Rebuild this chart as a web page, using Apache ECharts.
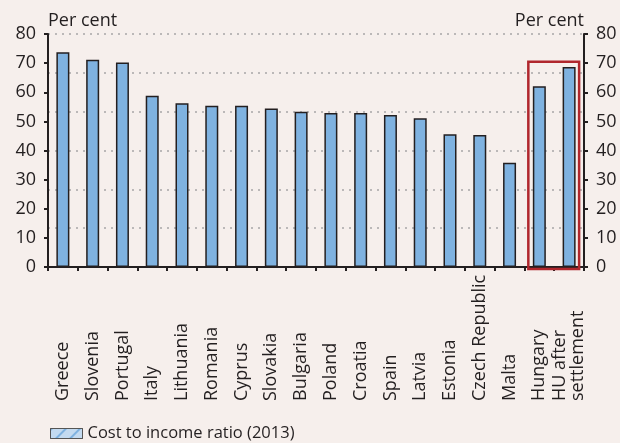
<!DOCTYPE html>
<html><head><meta charset="utf-8">
<script src="https://cdn.jsdelivr.net/npm/echarts@6/dist/echarts.min.js"></script>
<style>html,body{margin:0;padding:0;background:#f6efec;}#c{width:620px;height:443px;}</style>
</head><body><div id="c"></div>
<script>
var categories = ['Greece','Slovenia','Portugal','Italy','Lithuania','Romania','Cyprus','Slovakia','Bulgaria','Poland','Croatia','Spain','Latvia','Estonia','Czech Republic','Malta','Hungary','HU after\nsettlement'];
var costToIncome = [73.7,71.2,70.2,58.8,56.2,55.4,55.4,54.4,53.3,52.9,52.9,52.2,51.1,45.6,45.3,35.8,62.1,68.7];
var yTicks = [0,10,20,30,40,50,60,70,80];
var seriesName = 'Cost to income ratio (2013)';
var highlightTop = 70.5;

var FONT = 'Open Sans';
var dark = '#231f20';
var chart = echarts.init(document.getElementById('c'), null, {renderer:'canvas'});
function yAxisCfg(pos){
  return {
    type:'value', position:pos, min:yTicks[0], max:yTicks[yTicks.length-1], interval:yTicks[1]-yTicks[0],
    name:'Per cent', nameLocation:'end', nameGap:4,
    nameTextStyle:{fontFamily:FONT, fontSize:18, color:dark, align: pos==='left'?'left':'right'},
    axisLine:{show:true, lineStyle:{color:dark, width:2}},
    axisTick:{show:true, length:4, lineStyle:{color:dark, width:2}},
    axisLabel:{fontFamily:FONT, fontSize:18, color:dark, margin:12},
    splitLine:{show:false}
  };
}
var option = {
  backgroundColor:'#f6efec',
  animation:false,
  grid:{left:48, right:36, top:34, bottom:176},
  legend:{
    show:true, left:45, top:420, itemWidth:32, itemHeight:10, itemGap:10,
    textStyle:{fontFamily:FONT, fontSize:16.5, color:dark},
    data:[{name:seriesName, icon:'rect', itemStyle:{color:'#c3daf0', borderColor:'#555', borderWidth:1,
      decal:{symbol:'rect', dashArrayX:[1,0], dashArrayY:[1.5,8], rotation:-Math.PI/4, color:'#7fb2e0'}}}]
  },
  xAxis:{
    type:'category', data:categories,
    axisLine:{lineStyle:{color:dark, width:2}},
    axisTick:{show:true, interval:0, length:4, lineStyle:{color:dark, width:2}},
    axisLabel:{interval:0, rotate:90, align:'left', verticalAlign:'middle', margin:134, fontFamily:FONT, fontSize:18, color:dark, lineHeight:18}
  },
  yAxis:[yAxisCfg('left'), yAxisCfg('right'),
    {type:'value', min:0, max:80, interval:80/6, show:true, position:'left',
     axisLine:{show:false}, axisTick:{show:false}, axisLabel:{show:false},
     splitLine:{show:true, lineStyle:{color:'#a8a6a6', width:1.5, type:[2,5]}}}
  ],
  series:[{
    name:seriesName, type:'bar', data:costToIncome, barWidth:13, yAxisIndex:0,
    itemStyle:{color:'#7fb2e0', borderColor:dark, borderWidth:1.5}
  }]
};
chart.setOption(option);
var xL = chart.convertToPixel({xAxisIndex:0}, categories[16]);
var xR = chart.convertToPixel({xAxisIndex:0}, categories[17]);
var yT = chart.convertToPixel({yAxisIndex:0}, highlightTop);
var yB = chart.convertToPixel({yAxisIndex:0}, 0);
chart.setOption({graphic:[{type:'rect', z:100, shape:{x:xL-11, y:yT, width:(xR+10)-(xL-11), height:yB+2-yT},
  style:{fill:'none', stroke:'#b0272d', lineWidth:2.5}}]});
</script></body></html>
